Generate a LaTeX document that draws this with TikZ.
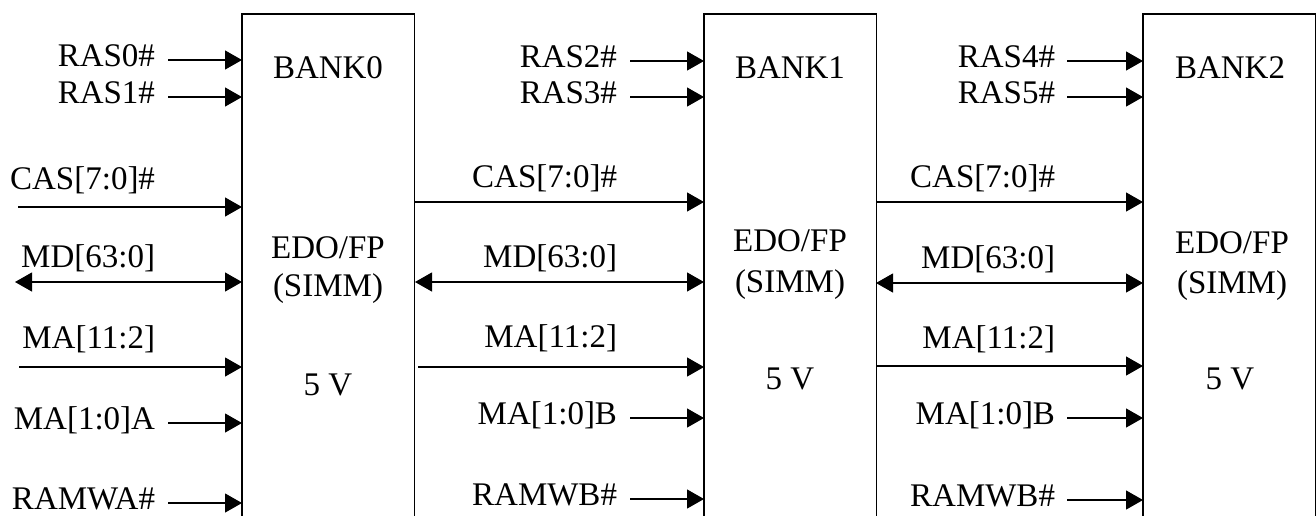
\documentclass[tikz,border=0pt]{standalone}
\usepackage{fontspec}
\setmainfont{Liberation Serif}
\tikzset{
  every node/.style = {
    inner sep = 0pt,
    outer sep = 0pt
  }
}
\usetikzlibrary{
arrows.meta
}

\begin{document}
\begin{tikzpicture}[
      x = 0.5pt,
      y = -0.5pt,
      bank/.style={
        draw,
        line width = 0.6pt,
        minimum width = 86.25pt,
        minimum height = 262pt,
        anchor = north west,
      },
      bank text/.style={
        font = \fontsize{16.5}{20}\selectfont,
        text height = 0.66em,
        text depth = 0pt,
      },
      signal/.style={
        bank text,
        anchor = east,
      },
      wire/.style={
        line width = 0.6pt,
        -{Triangle[length=8.5pt, width=9.5pt]},
      },
      bus/.style={
        line width = 0.6pt,
        {Triangle[length=8.5pt, width=9.5pt]}-{Triangle[length=8.5pt, width=9.5pt]},
      },
      ]
      \useasboundingbox (0,0) rectangle (1316,515);
      \clip (0,0) rectangle (1316,515);

      % the three banks
      \node [bank, name=node-bank0] at (242,14) {};
      \node [bank, name=node-bank1] at (704,14) {};
      \node [bank, name=node-bank2] at (1143,14) {};

      \node [bank text, name=node-name0] at (328,72) {BANK0};
      \node [bank text, name=node-edo0] at (328,252) {EDO/FP};
      \node [bank text, name=node-simm0] at (328,290) {(SIMM)};
      \node [bank text, name=node-volt0] at (328,389) {5 V};

      \node [bank text, name=node-name1] at (790,72) {BANK1};
      \node [bank text, name=node-edo1] at (790,245) {EDO/FP};
      \node [bank text, name=node-simm1] at (790,286) {(SIMM)};
      \node [bank text, name=node-volt1] at (790,383) {5 V};

      \node [bank text, name=node-name2] at (1230,72) {BANK2};
      \node [bank text, name=node-edo2] at (1232,247) {EDO/FP};
      \node [bank text, name=node-simm2] at (1232,287) {(SIMM)};
      \node [bank text, name=node-volt2] at (1230,383) {5 V};

      % signals of bank 0
      \node [signal, name=node-ras0] at (155,60) {RAS0\#};
      \node [signal, name=node-ras1] at (155,97) {RAS1\#};
      \node [signal, name=node-cas0] at (155,183) {CAS[7:0]\#};
      \node [signal, name=node-md0] at (155,261) {MD[63:0]};
      \node [signal, name=node-ma0] at (155,342) {MA[11:2]};
      \node [signal, name=node-mab0] at (155,423) {MA[1:0]A};
      \node [signal, name=node-ramw0] at (155,503) {RAMWA\#};
      \coordinate (node-cas0-in) at (18,207);
      \coordinate (node-md0-in) at (15,282);
      \coordinate (node-ma0-in) at (19,367);

      \draw [wire] ([xshift=6.5pt]node-ras0.east) -- (node-ras0 -| node-bank0.west);
      \draw [wire] ([xshift=6.5pt]node-ras1.east) -- (node-ras1 -| node-bank0.west);
      \draw [wire] (node-cas0-in) -- (node-cas0-in -| node-bank0.west);
      \draw [bus] (node-md0-in) -- (node-md0-in -| node-bank0.west);
      \draw [wire] (node-ma0-in) -- (node-ma0-in -| node-bank0.west);
      \draw [wire] ([xshift=6.5pt]node-mab0.east) -- (node-mab0 -| node-bank0.west);
      \draw [wire] ([xshift=6.5pt]node-ramw0.east) -- (node-ramw0 -| node-bank0.west);

      % signals of bank 1
      \node [signal, name=node-ras2] at (617,61) {RAS2\#};
      \node [signal, name=node-ras3] at (617,97) {RAS3\#};
      \node [signal, name=node-cas1] at (617,181) {CAS[7:0]\#};
      \node [signal, name=node-md1] at (617,261) {MD[63:0]};
      \node [signal, name=node-ma1] at (617,341) {MA[11:2]};
      \node [signal, name=node-mab1] at (617,418) {MA[1:0]B};
      \node [signal, name=node-ramw1] at (617,499) {RAMWB\#};
      \coordinate (node-cas1-in) at (415,202);
      \coordinate (node-md1-in) at (415,282);
      \coordinate (node-ma1-in) at (418,367);

      \draw [wire] ([xshift=6.5pt]node-ras2.east) -- (node-ras2 -| node-bank1.west);
      \draw [wire] ([xshift=6.5pt]node-ras3.east) -- (node-ras3 -| node-bank1.west);
      \draw [wire] (node-cas1-in) -- (node-cas1-in -| node-bank1.west);
      \draw [bus] (node-md1-in) -- (node-md1-in -| node-bank1.west);
      \draw [wire] (node-ma1-in) -- (node-ma1-in -| node-bank1.west);
      \draw [wire] ([xshift=6.5pt]node-mab1.east) -- (node-mab1 -| node-bank1.west);
      \draw [wire] ([xshift=6.5pt]node-ramw1.east) -- (node-ramw1 -| node-bank1.west);

      % signals of bank 2
      \node [signal, name=node-ras4] at (1055,61) {RAS4\#};
      \node [signal, name=node-ras5] at (1055,97) {RAS5\#};
      \node [signal, name=node-cas2] at (1055,181) {CAS[7:0]\#};
      \node [signal, name=node-md2] at (1055,262) {MD[63:0]};
      \node [signal, name=node-ma2] at (1055,342) {MA[11:2]};
      \node [signal, name=node-mab2] at (1055,418) {MA[1:0]B};
      \node [signal, name=node-ramw2] at (1055,500) {RAMWB\#};
      \coordinate (node-cas2-in) at (876,202);
      \coordinate (node-md2-in) at (876,283);
      \coordinate (node-ma2-in) at (876,366);

      \draw [wire] ([xshift=6pt]node-ras4.east) -- (node-ras4 -| node-bank2.west);
      \draw [wire] ([xshift=6pt]node-ras5.east) -- (node-ras5 -| node-bank2.west);
      \draw [wire] (node-cas2-in) -- (node-cas2-in -| node-bank2.west);
      \draw [bus] (node-md2-in) -- (node-md2-in -| node-bank2.west);
      \draw [wire] (node-ma2-in) -- (node-ma2-in -| node-bank2.west);
      \draw [wire] ([xshift=6pt]node-mab2.east) -- (node-mab2 -| node-bank2.west);
      \draw [wire] ([xshift=6pt]node-ramw2.east) -- (node-ramw2 -| node-bank2.west);
    \end{tikzpicture}
\end{document}
